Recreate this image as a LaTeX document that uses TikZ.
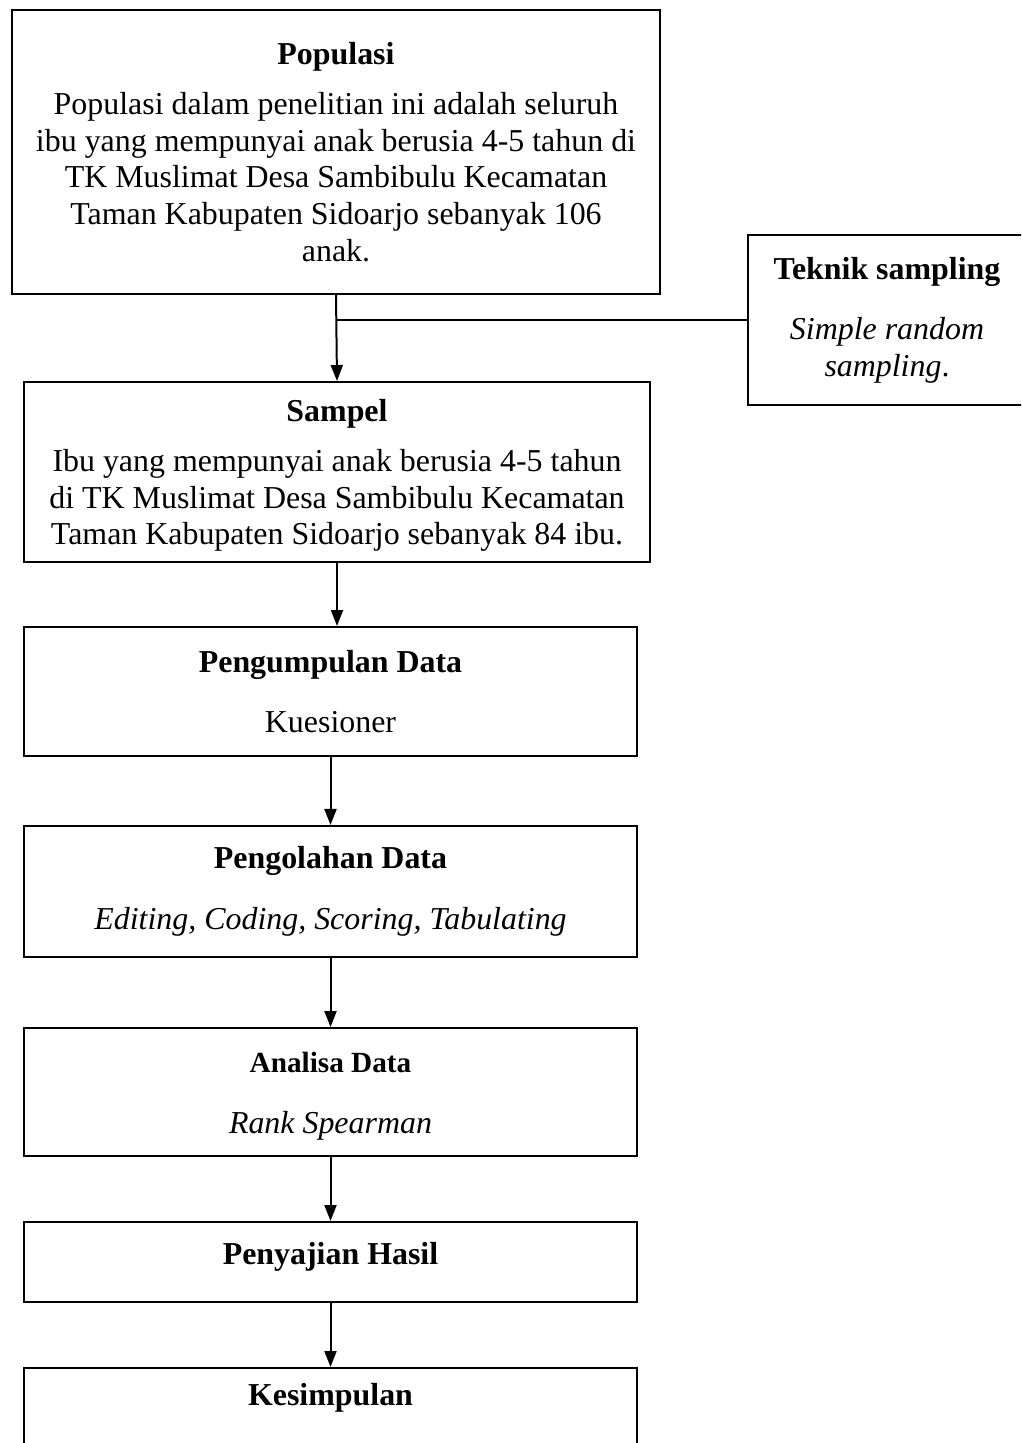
\documentclass[tikz,border=0pt]{standalone}
\usepackage{fontspec}
\setmainfont{Liberation Serif}
\usetikzlibrary{arrows.meta,positioning}

\begin{document}
\begin{tikzpicture}[x=0.376pt,y=-0.376pt,>={Triangle[length=6pt,width=4.5pt]},line width=0.75pt]
        \tikzstyle{box}=[rectangle,draw,align=center,inner sep=0pt,font=\fontsize{12}{13.8}\selectfont]
        \tikzstyle{pre}=[->]
        \useasboundingbox (0,0) rectangle (1021,1443);
        \clip (0,0) rectangle (1021,1443);
        \begin{scope}
        \node[box,minimum width=243.6pt,minimum height=106.8pt](pop) at (336,152)
            {\textbf{Populasi}\\[5pt]
             Populasi dalam penelitian ini adalah seluruh\\
             ibu yang mempunyai anak berusia 4-5 tahun di\\
             TK Muslimat Desa Sambibulu Kecamatan\\
             Taman Kabupaten Sidoarjo sebanyak 106\\
             anak.};
        \node[box,minimum width=104.5pt,minimum height=63.9pt](tek) at (887,320)
            {\textbf{Teknik sampling}\\[9pt]
             \textit{Simple random}\\
             \textit{sampling}.};
        \node[box,minimum width=235.4pt,minimum height=67.7pt](sam) at (337,472)
            {\rule{0pt}{11pt}\textbf{Sampel}\\[5pt]
             Ibu yang mempunyai anak berusia 4-5 tahun\\
             di TK Muslimat Desa Sambibulu Kecamatan\\
             Taman Kabupaten Sidoarjo sebanyak 84 ibu.};
        \node[box,minimum width=230.5pt,minimum height=48.5pt](kum) at (330.5,691.5)
            {\textbf{Pengumpulan Data}\\[9pt] Kuesioner};
        \node[box,minimum width=230.5pt,minimum height=49.3pt](olah) at (330.5,891.5)
            {\textbf{Pengolahan Data}\\[9pt] \textit{Editing, Coding, Scoring, Tabulating}};
        \node[box,minimum width=230.5pt,minimum height=48.1pt](ana) at (330.5,1092)
            {\rule{0pt}{11pt}{\fontsize{11}{13}\selectfont\textbf{Analisa Data}}\\[9pt] \textit{Rank Spearman}};
        \node[box,minimum width=230.5pt,minimum height=30.1pt](saji) at (330.5,1262)
            {\textbf{Penyajian Hasil}\rule[-6.4pt]{0pt}{0pt}};
        \node[box,minimum width=230.5pt,minimum height=30.1pt](simpul) at (330.5,1408)
            {\textbf{Kesimpulan}\rule[-10pt]{0pt}{0pt}};
        \end{scope}
        % alur
        \draw[pre] (pop.south) -- (sam.north);
        \draw (tek.west) -- (tek.west -| pop.south);
        \draw[pre] (sam.south) -- (sam.south |- kum.north);
        \draw[pre] (kum.south) -- (olah.north);
        \draw[pre] (olah.south) -- (ana.north);
        \draw[pre] (ana.south) -- (saji.north);
        \draw[pre] (saji.south) -- (simpul.north);
\end{tikzpicture}
\end{document}
